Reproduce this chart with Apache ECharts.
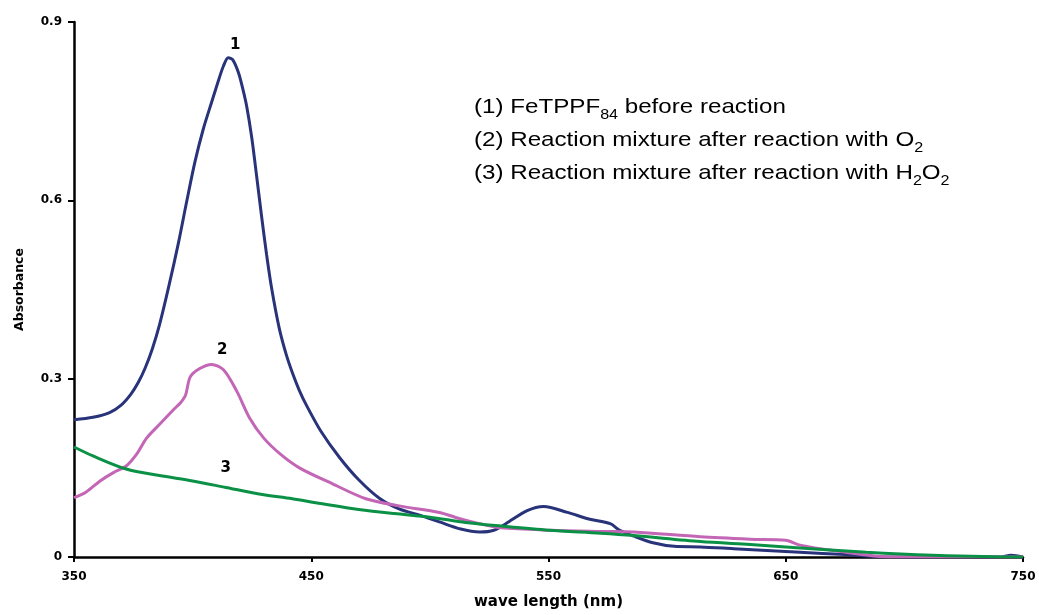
<!DOCTYPE html>
<html><head><meta charset="utf-8">
<script src="https://cdn.jsdelivr.net/npm/echarts@6/dist/echarts.min.js"></script>
<style>html,body{margin:0;padding:0;background:#fff}#c{width:1039px;height:615px}</style>
</head><body><div id="c"></div>
<script>
var wl1 = [350,358,365,370,374,377,380,383,386,390,394,397.5,401,404.5,408,411,413,415,417,419.3,421,422.8,424.9,427,429.1,431.2,433.3,436.5,439.5,442.4,445,448,454,462,470,479,487,496,504,513,521,527,532,541,548,558,567,576,580,586,594,603,614,628,656,675,691,720,740,745,750];
var abs1 = [0.231,0.235,0.243,0.256,0.274,0.293,0.318,0.35,0.39,0.456,0.528,0.598,0.665,0.72,0.765,0.803,0.826,0.84,0.836,0.815,0.79,0.758,0.706,0.64,0.572,0.508,0.452,0.385,0.34,0.306,0.28,0.255,0.212,0.167,0.13,0.098,0.081,0.07,0.059,0.047,0.042,0.045,0.056,0.078,0.085,0.075,0.064,0.056,0.045,0.035,0.024,0.018,0.017,0.014,0.008,0.004,0,0,0,0.003,0];
var wl2 = [350,355,361,366.6,372,376.4,380.6,386,392,395,397,399,403,408,413,418.6,424,430,437,445,459,473,487,504,513,521,530,551,572,586,614,635,650,656,670,695,720,750];
var abs2 = [0.1,0.109,0.128,0.142,0.153,0.173,0.2,0.223,0.248,0.26,0.272,0.303,0.317,0.324,0.315,0.279,0.234,0.2,0.173,0.15,0.123,0.098,0.086,0.075,0.064,0.056,0.049,0.045,0.043,0.042,0.034,0.03,0.028,0.02,0.011,0.0,0,0];
var wl3 = [350,358,372,386,400,414,428,442,454,470,485,500,515,530,550,572,586,614,635,650,684,712,748,750];
var abs3 = [0.185,0.17,0.148,0.137,0.128,0.117,0.106,0.098,0.09,0.08,0.073,0.067,0.058,0.052,0.045,0.04,0.036,0.026,0.021,0.017,0.008,0.003,0.0,0.0];
var xTicks = [350,450,550,650,750];
var yTicks = [0,0.3,0.6,0.9];
var curveLabels = ['1','2','3'];
var labelAt = [[418,0.861],[412.5,0.348],[414,0.15]];
var legendLines = ['(1) FeTPPF{s|84} before reaction','(2) Reaction mixture after reaction with O{s|2}','(3) Reaction mixture after reaction with H{s|2}O{s|2}'];
var colors = ['#28337a','#c466b6','#0b9146'];

function pairs(x,y){return x.map(function(v,i){return [v,y[i]];});}
var F = 'Liberation Sans, Arial, sans-serif';
var B = 'DejaVu Sans, sans-serif';
function mk(name,x,y,i){
  return {type:'line',name:name,data:pairs(x,y),showSymbol:false,smooth:0.3,
    lineStyle:{color:colors[i],width:3},itemStyle:{color:colors[i]},
    markPoint:{symbol:'circle',symbolSize:1,silent:true,itemStyle:{color:'rgba(0,0,0,0)'},
      data:[{coord:labelAt[i],value:curveLabels[i]}],
      label:{show:true,position:'inside',formatter:curveLabels[i],fontFamily:B,fontWeight:'bold',fontSize:15,color:'#000'}}};
}
var chart = echarts.init(document.getElementById('c'));
chart.setOption({
  animation:false,
  backgroundColor:'#fff',
  grid:{left:74,right:16,top:22,bottom:55,containLabel:false},
  xAxis:{type:'value',min:350,max:750,interval:100,
    name:'wave length (nm)',nameLocation:'middle',nameGap:38,
    nameTextStyle:{fontFamily:B,fontWeight:'bold',fontSize:15,color:'#000'},
    axisLine:{show:true,lineStyle:{color:'#000',width:2.5}},
    axisTick:{show:true,length:5,lineStyle:{color:'#000',width:2}},
    axisLabel:{fontFamily:B,fontWeight:'bold',fontSize:12,color:'#000',margin:14,
      formatter:function(v){return xTicks.indexOf(v)>=0?String(v):'';}},
    splitLine:{show:false}},
  yAxis:{type:'value',min:0,max:0.9,interval:0.3,
    name:'Absorbance',nameLocation:'middle',nameGap:48,
    nameTextStyle:{fontFamily:B,fontWeight:'bold',fontSize:12.5,color:'#000'},
    axisLine:{show:true,lineStyle:{color:'#000',width:2.5}},
    axisTick:{show:true,length:6,lineStyle:{color:'#000',width:2}},
    axisLabel:{fontFamily:B,fontWeight:'bold',fontSize:12,color:'#000',margin:12,
      formatter:function(v){var r=Math.round(v*10)/10;return yTicks.indexOf(r)>=0?String(r):'';}},
    splitLine:{show:false}},
  series:[
    mk('1',wl1,abs1,0),
    mk('2',wl2,abs2,1),
    mk('3',wl3,abs3,2)
  ],
  graphic:legendLines.map(function(t,i){
    return {type:'text',x:474,y:107+i*33,scaleX:1.15,
      style:{text:t,fontFamily:F,fontSize:21,fill:'#000',verticalAlign:'middle',
        rich:{s:{fontFamily:F,fontSize:14,fill:'#000',verticalAlign:'bottom',lineHeight:30,padding:[9,0,0,0]}}}};
  })
});
</script></body></html>
